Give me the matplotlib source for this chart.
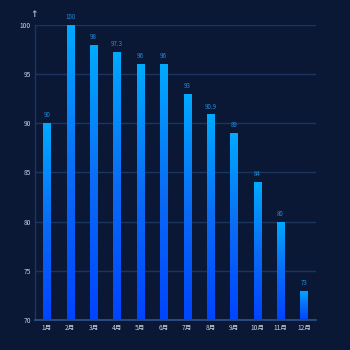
import numpy as np
import matplotlib
matplotlib.use("Agg")
import matplotlib.pyplot as plt
from matplotlib.colors import LinearSegmentedColormap

plt.rcParams['font.family'] = ['Noto Sans CJK SC', 'DejaVu Sans']

months = ['1月', '2月', '3月', '4月', '5月', '6月', '7月', '8月', '9月', '10月', '11月', '12月']
values = [90, 100, 98, 97.3, 96, 96, 93, 90.9, 89, 84, 80, 73]
value_labels = ['90', '100', '98', '97.3', '96', '96', '93', '90.9', '89', '84', '80', '73']
yticks = [70, 75, 80, 85, 90, 95, 100]

bg = '#0a1836'
fig = plt.figure(figsize=(3.5, 3.5), dpi=100, facecolor=bg)
ax = fig.add_axes([0.1, 0.0857, 0.802, 0.843], facecolor=bg)

x = np.arange(len(months))
bars = ax.bar(x, values, width=0.3, color='none', edgecolor='none', zorder=3)
cmap = LinearSegmentedColormap.from_list('g', ['#0044ff', '#0a6cf5', '#00aaff'])
grad = np.linspace(0, 1, 256).reshape(-1, 1)
ymin = 70
for b in bars:
    x0, w, h = b.get_x(), b.get_width(), b.get_height()
    im = ax.imshow(grad, extent=[x0, x0 + w, ymin, h], origin='lower', cmap=cmap,
                   aspect='auto', zorder=3)
    im.set_clip_path(b)

for xi, v, lab in zip(x, values, value_labels):
    ax.text(xi, v + 0.4, lab, ha='center', va='bottom', fontsize=4.5, color='#1f8ad8', zorder=4)

ax.set_xlim(-0.5, len(months) - 0.5)
ax.set_ylim(70, 100)
ax.set_yticks(yticks)
ax.set_xticks(x)
ax.set_xticklabels(months)
ax.tick_params(axis='both', length=0, labelsize=4.8, colors='#c8d0e0', pad=3)
ax.grid(axis='y', color='#1c355f', linewidth=1, zorder=0)
ax.set_axisbelow(True)
for s in ['top', 'right']:
    ax.spines[s].set_visible(False)
ax.spines['left'].set_color('#1c355f')
ax.spines['bottom'].set_color('#2a5590')
ax.spines['left'].set_linewidth(1)
ax.spines['bottom'].set_linewidth(1.2)

ax.text(-0.004, 1.035, '↑', transform=ax.transAxes, ha='center', va='center',
        fontsize=6.5, fontweight='bold', color='#a8b4c8', family='DejaVu Sans')

fig.savefig('out.png', dpi=100, facecolor=bg)
